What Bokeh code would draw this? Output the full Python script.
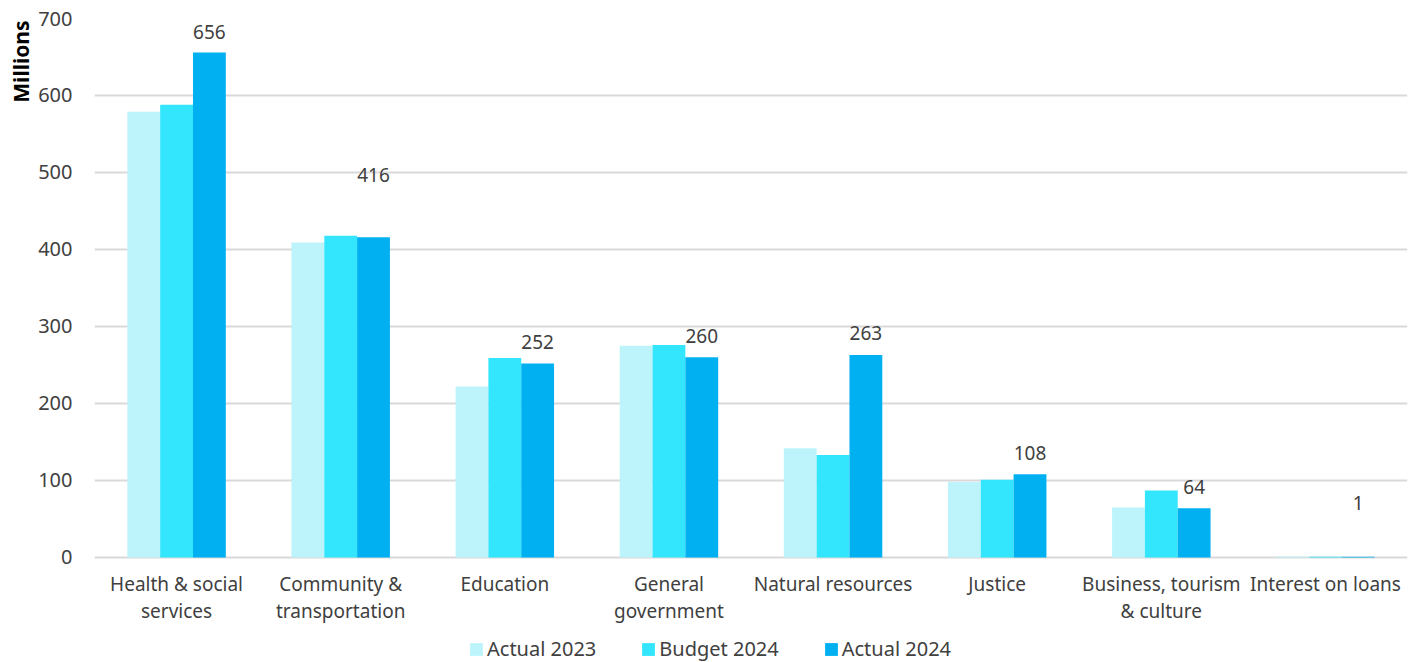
from bokeh.plotting import figure
from bokeh.models import (ColumnDataSource, FactorRange, Range1d, Legend, LegendItem,
                          Title, FixedTicker)
from bokeh.transform import dodge
from bokeh.core.properties import value
from bokeh.embed import file_html
from bokeh.resources import INLINE

categories = ["Health & social\nservices", "Community &\ntransportation", "Education",
              "General\ngovernment", "Natural resources", "Justice",
              "Business, tourism\n& culture", "Interest on loans"]
actual_2023 = [579, 409, 222, 275, 142, 98, 65, 1]
budget_2024 = [588, 418, 259, 276, 133, 101, 87, 1]
actual_2024 = [656, 416, 252, 260, 263, 108, 64, 1]
y_ticks = [0, 100, 200, 300, 400, 500, 600, 700]

# label placement (style, in y units above the bar)
label_lift = [27, 81, 28, 28, 28, 28, 28, 70]
# frame extends below zero to host category labels and legend (layout, y units)
Y_MIN = -136.4
CAT_LABEL_Y = -18

FONT = "Noto Sans"
TXT = "#404040"
C1, C2, C3 = "#BDF4FC", "#33E6FE", "#00B0F0"

src = ColumnDataSource(dict(cat=categories, a23=actual_2023, b24=budget_2024, a24=actual_2024,
                            ly=[v + l for v, l in zip(actual_2024, label_lift)],
                            lt=[str(v) for v in actual_2024],
                            cy=[CAT_LABEL_Y] * len(categories)))

p = figure(frame_width=1313, frame_height=644, x_range=FactorRange(*categories, range_padding=0),
           y_range=Range1d(Y_MIN, 700), output_backend="svg", toolbar_location=None,
           min_border_left=94, min_border_right=12, min_border_top=18, min_border_bottom=0)
p.outline_line_color = None
p.background_fill_color = "white"

r1 = p.vbar(x=dodge("cat", -0.2, range=p.x_range), top="a23", width=0.2, source=src,
            fill_color=C1, line_color=None)
r2 = p.vbar(x=dodge("cat", 0.0, range=p.x_range), top="b24", width=0.2, source=src,
            fill_color=C2, line_color=None)
r3 = p.vbar(x=dodge("cat", 0.2, range=p.x_range), top="a24", width=0.2, source=src,
            fill_color=C3, line_color=None)
p.text(x=dodge("cat", 0.2, range=p.x_range), y="ly", text="lt", source=src,
       text_font=value(FONT), text_font_size="19px", text_color=TXT,
       text_align="center", text_baseline="middle")
p.text(x="cat", y="cy", text="cat", source=src,
       text_font=value(FONT), text_font_size="19px", text_color=TXT,
       text_align="center", text_baseline="top", text_line_height=1.04)

p.xaxis.visible = False
p.xgrid.grid_line_color = None
p.ygrid.grid_line_color = "#D9D9D9"
p.ygrid.grid_line_width = 2
p.yaxis.ticker = FixedTicker(ticks=y_ticks)
p.yaxis.axis_line_color = None
p.yaxis.major_tick_line_color = None
p.yaxis.minor_tick_line_color = None
p.yaxis.major_label_text_font = FONT
p.yaxis.major_label_text_color = TXT
p.yaxis.major_label_text_font_size = "20px"
p.yaxis.major_label_standoff = 16

p.add_layout(Title(text="Millions", align="right", text_font=FONT, text_font_size="21px",
                   text_font_style="bold", text_color="black", standoff=2, offset=2), "left")

legend = Legend(items=[LegendItem(label="Actual 2023", renderers=[r1]),
                       LegendItem(label="Budget 2024", renderers=[r2]),
                       LegendItem(label="Actual 2024", renderers=[r3])],
                orientation="horizontal", location=(374, 0),
                label_text_font=FONT, label_text_font_size="20px", label_text_color=TXT,
                glyph_width=16, glyph_height=16, label_standoff=3, spacing=44,
                border_line_color=None, background_fill_alpha=0, padding=2, margin=0)
p.add_layout(legend, "center")

open("out.html", "w").write(file_html(p, INLINE))
